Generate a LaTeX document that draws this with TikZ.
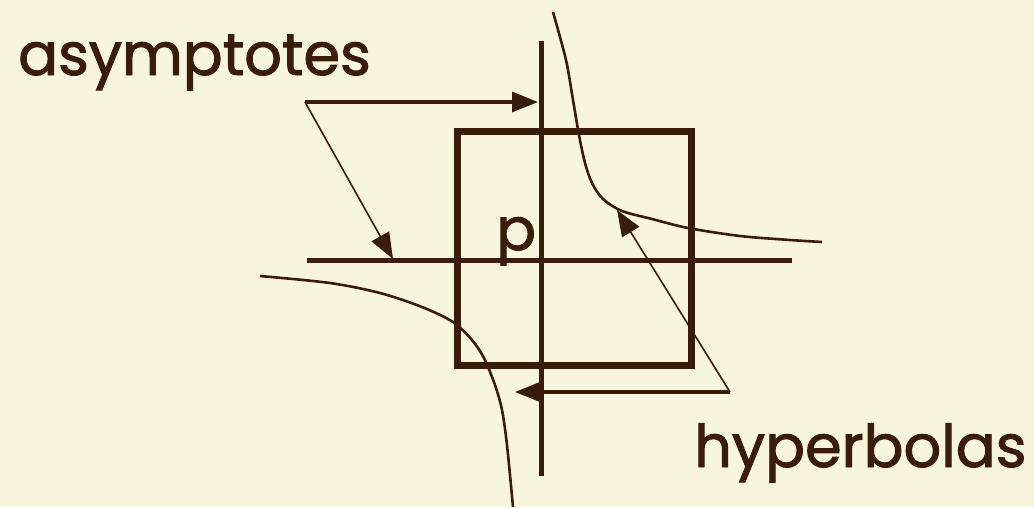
\documentclass[tikz,border=0pt]{standalone}
\usepackage{fontspec}
\setmainfont{Poppins}
\newfontfamily\lblfont{Poppins}[FakeBold=1.6]
\usetikzlibrary{arrows.meta}
\definecolor{bg}{HTML}{F8F5DF}
\definecolor{ink}{HTML}{3A1C0A}
\tikzset{
  boxline/.style={draw=ink, line width=6.5pt, line join=miter},
  asym/.style={draw=ink, line width=5pt},
  hyp/.style={draw=ink, line width=2.6pt, smooth, tension=0.5},
  pointer/.style={draw=ink, line width=1.6pt, line join=miter},
  pointerh/.style={draw=ink, line width=3.2pt},
  tip/.style={-{Triangle[length=26pt,width=20pt]}},
  lbl/.style={text=ink, font=\lblfont\fontsize{59}{61}\selectfont, inner sep=0pt, anchor=base west}
}
\begin{document}
\begin{tikzpicture}[x=1pt,y=-1pt]
\fill[bg] (0,0) rectangle (1034,507);
\useasboundingbox (0,0) rectangle (1034,507);
% box
\node[boxline, minimum width=234pt, minimum height=234pt, inner sep=0pt, anchor=north west] (box) at (454,128) {};
% asymptotes
\coordinate (vtop) at (541,41);
\coordinate (vbot) at (541,476);
\coordinate (hl) at (307,260);
\coordinate (hr) at (792,260);
\draw[asym] (vtop) -- (vbot);
\draw[asym] (hl) -- (hr);
% hyperbolas
\draw[hyp] plot coordinates {(553,12) (566,60) (573,100) (579,135) (585,163) (592,183) (603,199) (622,211) (652,219) (688,228) (740,236) (790,240) (822,242)};
\draw[hyp] plot coordinates {(260,276) (330,283) (380,293) (422,307) (453,322) (472,340) (484,358) (495,385) (502,410) (507,445) (513,507)};
% labels
\node[lbl] (asy) at (18,75) {asymptotes};
\node[lbl] (hypl) at (694,467) {hyperbolas};
\node[lbl] (p) at (496,250) {p};
% pointers
\coordinate (a0) at (305,102);
\coordinate (a1) at (538,102);
\coordinate (a2) at (393,259);
\draw[pointerh, tip] (a0) -- (a1);
\draw[pointer, tip] (a0) -- (a2);
\coordinate (b0) at (730,392);
\coordinate (b1) at (515,392);
\coordinate (b2) at (617,210);
\draw[pointerh, tip] (b0) -- (b1);
\draw[pointer, tip] (b0) -- (b2);
\end{tikzpicture}
\end{document}
